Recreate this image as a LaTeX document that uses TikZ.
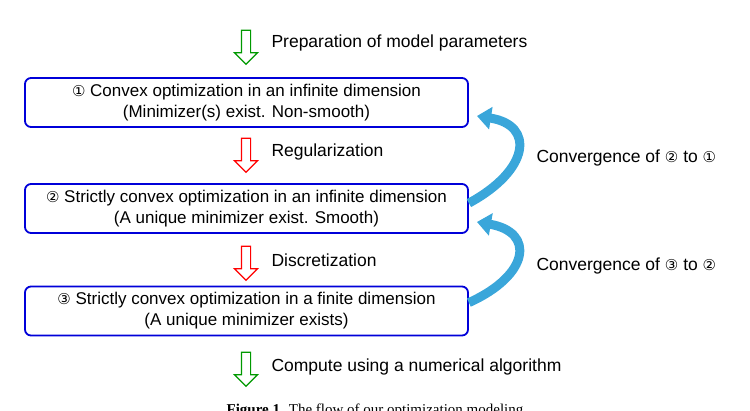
\documentclass[tikz,border=0pt]{standalone}
\usepackage{fontspec}
\setmainfont{Liberation Sans}
\newfontfamily\circfont{DejaVu Sans}
\newfontfamily\capfont{Liberation Serif}
\usetikzlibrary{shapes.arrows, arrows.meta, positioning}
\newcommand{\cnum}[1]{{\circfont\fontsize{15}{17}\selectfont #1}}
\definecolor{convblue}{HTML}{3AA6DA}
\begin{document}
\begin{tikzpicture}[
    x=1pt, y=-1pt,
    box/.style={
      rectangle,
      rounded corners=6pt,
      minimum height=49pt,
      minimum width=443pt,
      draw=blue!85!black,
      line width=1.8pt,
      fill=white,
      align=center,
      font=\fontsize{17}{21}\selectfont
    },
    hollow/.style={
      single arrow,
      shape border rotate=270,
      minimum height=34pt,
      inner sep=4pt,
      single arrow head extend=7pt,
      line width=1.2pt,
      fill=white
    },
    note/.style={
      anchor=west,
      font=\fontsize{17.5}{20}\selectfont
    },
    conv/.style={
      convblue,
      line width=9pt,
      -{Triangle[width=22pt,length=14pt]}
    }
  ]
  \useasboundingbox (0,0) rectangle (750,410);
  \clip (0,0) rectangle (750,410);

  % Boxes
  \node[box] (opt1) at (246.5,102.5) {\cnum{①} Convex optimization in an infinite dimension\\(Minimizer(s) exist. Non-smooth)};
  \node[box] (opt2) at (246.5,208.5) {\cnum{②} Strictly convex optimization in an infinite dimension\\(A unique minimizer exist. Smooth)};
  \node[box] (opt3) at (246.5,311) {\cnum{③} Strictly convex optimization in a finite dimension\\(A unique minimizer exists)};

  % Hollow arrows
  \node[hollow, draw=green!60!black] (prep) at (246,45) {};
  \node[hollow, draw=red] (reg) at (246,153) {};
  \node[hollow, draw=red] (disc) at (246,261) {};
  \node[hollow, draw=green!60!black] (comp) at (246,367) {};

  \node[note] (lprep) at (268,43) {Preparation of model parameters};
  \node[note] (lreg) at (268,152) {Regularization};
  \node[note] (ldisc) at (268,260) {Discretization};
  \node[note] (lcomp) at (268,367) {Compute using a numerical algorithm};

  % Convergence arrows
  \coordinate (c1) at (477,116);
  \coordinate (c2) at (477,222);
  \draw[conv] ([yshift=-20pt]opt2.north east) .. controls (530,170) and (535,125) .. (c1);
  \draw[conv] ([yshift=-17pt]opt3.north east) .. controls (530,275) and (535,232) .. (c2);
  \node[note] (lc1) at (533,158) {Convergence of \cnum{②} to \cnum{①}};
  \node[note] (lc2) at (533,266) {Convergence of \cnum{③} to \cnum{②}};

  % Caption
  \node[font=\capfont\fontsize{15}{18}\selectfont, anchor=base] (cap) at (375,414) {\textbf{Figure 1.} The flow of our optimization modeling};
\end{tikzpicture}
\end{document}
